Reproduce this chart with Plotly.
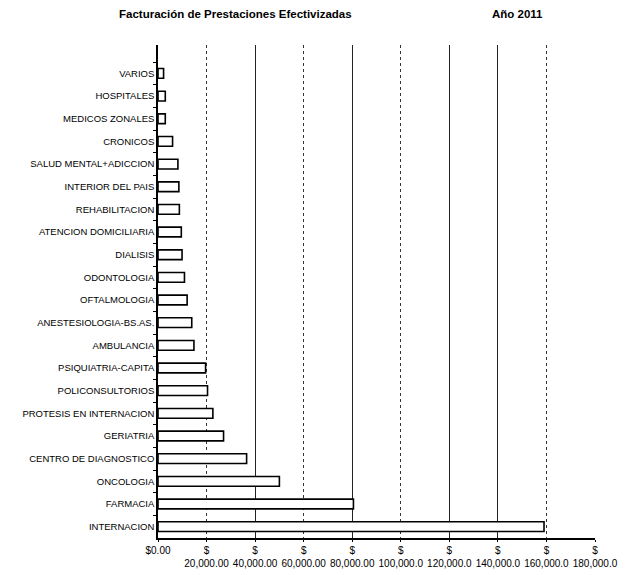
import plotly.graph_objects as go

categories = [
    "VARIOS", "HOSPITALES", "MEDICOS ZONALES", "CRONICOS", "SALUD MENTAL+ADICCION",
    "INTERIOR DEL PAIS", "REHABILITACION", "ATENCION DOMICILIARIA", "DIALISIS",
    "ODONTOLOGIA", "OFTALMOLOGIA", "ANESTESIOLOGIA-BS.AS.", "AMBULANCIA",
    "PSIQUIATRIA-CAPITA", "POLICONSULTORIOS", "PROTESIS EN INTERNACION",
    "GERIATRIA", "CENTRO DE DIAGNOSTICO", "ONCOLOGIA", "FARMACIA", "INTERNACION",
]
values = [
    2300, 3000, 3000, 6000, 8200,
    8600, 8800, 9600, 9900,
    10900, 12000, 13900, 14800,
    19600, 20400, 22600,
    27000, 36500, 50000, 80500, 159000,
]

tick_vals = [0, 20000, 40000, 60000, 80000, 100000, 120000, 140000, 160000, 180000]
tick_text = ["$0.00", "$<br>20,000.00", "$<br>40,000.00", "$<br>60,000.00", "$<br>80,000.00",
             "$<br>100,000.0", "$<br>120,000.0", "$<br>140,000.0", "$<br>160,000.0", "$<br>180,000.0"]
solid_grid = [40000, 80000, 120000, 140000]
dotted_grid = [20000, 60000, 100000, 160000, 180000]

W, H = 626, 575
ML, MR, MT, MB = 150, 39, 37, 45
PW, PH = W - ML - MR, H - MT - MB


def px_x(x):
    return (x - ML) / PW


def px_y(y):
    return 1 + (MT - y) / PH


fig = go.Figure()
fig.add_trace(go.Bar(
    x=values, y=categories, orientation="h",
    marker=dict(color="white", line=dict(color="black", width=1.6)),
    xaxis="x", yaxis="y", showlegend=False,
))
for ax in ("x2", "x3"):
    fig.add_trace(go.Scatter(x=[0, 180000], y=[categories[0], categories[0]], mode="markers",
                             marker=dict(opacity=0), xaxis=ax, yaxis="y", showlegend=False,
                             hoverinfo="skip"))

fig.update_layout(
    width=W, height=H,
    margin=dict(l=ML, r=MR, t=MT, b=MB, autoexpand=False),
    paper_bgcolor="white", plot_bgcolor="white",
    font=dict(family="Liberation Sans, Arial, sans-serif", color="black", size=9),
    bargap=0.57,
    xaxis=dict(
        range=[0, 180000], tickmode="array", tickvals=tick_vals, ticktext=tick_text,
        showgrid=False, showline=True, linecolor="black", linewidth=1.5,
        ticks="outside", ticklen=2, tickcolor="black", automargin=False,
        tickfont=dict(size=10), tickangle=0, zeroline=False, layer="above traces",
    ),
    xaxis2=dict(
        range=[0, 180000], overlaying="x", tickmode="array", tickvals=solid_grid,
        showticklabels=False, showgrid=True, gridcolor="#222", gridwidth=1.2,
        zeroline=False, showline=False, layer="below traces", automargin=False,
    ),
    xaxis3=dict(
        range=[0, 180000], overlaying="x", tickmode="array", tickvals=dotted_grid,
        showticklabels=False, showgrid=True, gridcolor="#333", gridwidth=1.2, griddash="dot",
        zeroline=False, showline=False, layer="below traces", automargin=False,
    ),
    yaxis=dict(
        autorange="reversed", showline=True, linecolor="black", linewidth=1.5,
        ticks="outside", ticklen=3, tickcolor="black", tickson="boundaries",
        tickfont=dict(size=9.5), showgrid=False, zeroline=False, automargin=False,
    ),
    annotations=[
        dict(text="<b>Facturación de Prestaciones Efectivizadas</b>", x=px_x(227), y=px_y(6),
             xref="paper", yref="paper", xanchor="center", yanchor="middle",
             showarrow=False, font=dict(size=11.5)),
        dict(text="<b>Año 2011</b>", x=px_x(509), y=px_y(6), xref="paper", yref="paper",
             xanchor="center", yanchor="middle", showarrow=False, font=dict(size=11.5)),
    ],
)

fig.write_html("out.html")
